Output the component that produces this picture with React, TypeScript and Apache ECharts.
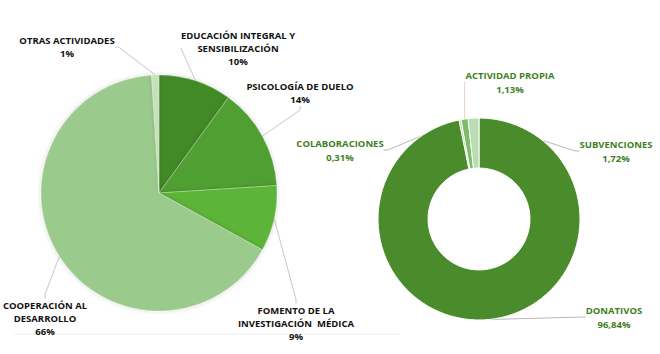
import React, { useEffect, useRef } from "react";
import * as echarts from "echarts";

const leftNames = [
  "EDUCACIÓN INTEGRAL Y\nSENSIBILIZACIÓN",
  "PSICOLOGÍA DE DUELO",
  "FOMENTO DE LA\nINVESTIGACIÓN  MÉDICA",
  "COOPERACIÓN AL\nDESARROLLO",
  "OTRAS ACTIVIDADES",
];
const leftValues = [10, 14, 9, 66, 1];
const leftColors = ["#428a27", "#4f9f32", "#5bb437", "#9bcb8c", "#c6e0bb"];
const leftLabelPos = [
  [238, 48],
  [300, 93],
  [296, 323],
  [45, 318],
  [67, 47],
];

const rightNames = ["DONATIVOS", "COLABORACIONES", "ACTIVIDAD PROPIA", "SUBVENCIONES"];
const rightValues = [96.84, 0.31, 1.13, 1.72];
const rightColors = ["#4a8c2c", "#9fd08d", "#7dbd68", "#b9ddb0"];
const rightLineColors = ["#b8b8b8", "#b8b8b8", "#ecd2c8", "#b8b8b8"];
const rightLabelPos = [
  [614, 317],
  [340, 150],
  [510, 82],
  [616, 151],
];

export default function App() {
  const ref = useRef<HTMLDivElement>(null);
  useEffect(() => {
    if (!ref.current) return;
    const chart = echarts.init(ref.current, undefined, { renderer: "svg" });
    const font = "'Open Sans', 'Noto Sans', sans-serif";
    chart.setOption({
      animation: false,
      backgroundColor: "#ffffff",
      graphic: [
        {
          type: "line",
          shape: { x1: 14, y1: 334, x2: 400, y2: 334 },
          style: { stroke: "#eeeeee", lineWidth: 1 },
          silent: true,
        },
      ],
      series: [
        {
          type: "pie",
          center: [159, 193],
          radius: [0, 118],
          startAngle: 90,
          clockwise: true,
          avoidLabelOverlap: false,
          data: leftNames.map((n, i) => ({
            name: n,
            value: leftValues[i],
            itemStyle: { color: leftColors[i] },
          })),
          itemStyle: {
            borderColor: "rgba(255,255,255,0.5)",
            borderWidth: 0.5,
            shadowBlur: 4,
            shadowColor: "rgba(0,0,0,0.18)",
          },
          label: {
            show: true,
            formatter: (p: any) => `${p.name}\n${p.value}%`,
            color: "#111111",
            fontFamily: font,
            fontWeight: "bold",
            fontSize: 9.5,
            lineHeight: 13,
            align: "center",
          },
          labelLine: {
            show: true,
            length: 8,
            length2: 4,
            lineStyle: { color: "#c8c8c8", width: 1 },
          },
          labelLayout: (p: any) => ({
            x: leftLabelPos[p.dataIndex][0],
            y: leftLabelPos[p.dataIndex][1],
            align: "center",
            verticalAlign: "middle",
          }),
        },
        {
          type: "pie",
          center: [479, 219],
          radius: [51, 101],
          startAngle: 90,
          clockwise: true,
          avoidLabelOverlap: false,
          data: rightNames.map((n, i) => ({
            name: n,
            value: rightValues[i],
            itemStyle: { color: rightColors[i] },
            labelLine: { lineStyle: { color: rightLineColors[i] } },
          })),
          itemStyle: { borderColor: "#ffffff", borderWidth: 1 },
          label: {
            show: true,
            formatter: (p: any) =>
              `${p.name}\n${p.value.toFixed(2).replace(".", ",")}%`,
            color: "#3f7f24",
            fontFamily: font,
            fontWeight: "bold",
            fontSize: 9.5,
            lineHeight: 14,
            align: "center",
          },
          labelLine: {
            show: true,
            length: 8,
            length2: 4,
            lineStyle: { color: "#b8b8b8", width: 1 },
          },
          labelLayout: (p: any) => ({
            x: rightLabelPos[p.dataIndex][0],
            y: rightLabelPos[p.dataIndex][1],
            align: "center",
            verticalAlign: "middle",
          }),
        },
      ],
    });
    return () => chart.dispose();
  }, []);
  return (
    <div
      ref={ref}
      style={{ position: "absolute", left: 0, top: 0, width: 660, height: 354 }}
    />
  );
}
